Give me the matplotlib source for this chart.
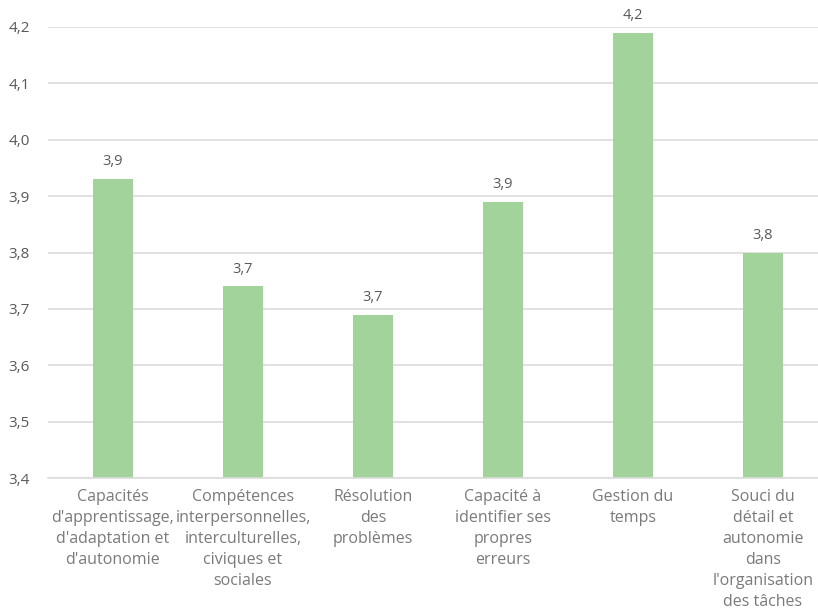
import matplotlib.pyplot as plt
from matplotlib.ticker import FuncFormatter

# mean score per competence
categories = [
    "Capacités\nd'apprentissage,\nd'adaptation et\nd'autonomie",
    "Compétences\ninterpersonnelles,\ninterculturelles,\nciviques et\nsociales",
    "Résolution\ndes\nproblèmes",
    "Capacité à\nidentifier ses\npropres\nerreurs",
    "Gestion du\ntemps",
    "Souci du\ndétail et\nautonomie\ndans\nl'organisation\ndes tâches",
]
scores = [3.93, 3.74, 3.69, 3.89, 4.19, 3.80]
y_ticks = [3.4, 3.5, 3.6, 3.7, 3.8, 3.9, 4.0, 4.1, 4.2]

BAR = "#a1d39b"
GRID = "#dcdcdc"
TICK_TXT = "#595959"
CAT_TXT = "#7a7a7a"

fig = plt.figure(figsize=(8.18, 6.14), dpi=100)
# axes spans bar slots -0.5..5.5 -> px 48..828 (right edge runs off the canvas)
ax = fig.add_axes([48 / 818, (614 - 478) / 614, 780 / 818, (478 - 27) / 614])

x = range(len(categories))
ax.bar(x, scores, width=0.31, color=BAR, zorder=2)
ax.set_xlim(-0.5, 5.5)
ax.set_ylim(3.4, 4.2)

for xi, v in zip(x, scores):
    ax.annotate(f"{v:.1f}".replace(".", ","), (xi, v), xytext=(0, 7),
                textcoords="offset points", ha="center", va="bottom",
                fontsize=10.5, color=TICK_TXT, family="Open Sans")

ax.set_yticks(y_ticks)
ax.yaxis.set_major_formatter(FuncFormatter(lambda v, _: f"{v:.1f}".replace(".", ",")))
ax.yaxis.grid(True, color=GRID, linewidth=1.2, zorder=0)
ax.set_axisbelow(True)

ax.set_xticks(list(x))
ax.set_xticklabels(categories, fontsize=11.5, color=CAT_TXT, family="Open Sans",
                   linespacing=1.42, va="top")
ax.tick_params(axis="x", length=0, pad=8)
ax.tick_params(axis="y", length=0, pad=13, labelsize=11, labelcolor=TICK_TXT)
for lab in ax.get_yticklabels():
    lab.set_family("Open Sans")

for side in ("top", "right", "left"):
    ax.spines[side].set_visible(False)
ax.spines["bottom"].set_color(GRID)
ax.spines["bottom"].set_linewidth(1.2)

fig.savefig("out.png", dpi=100)
